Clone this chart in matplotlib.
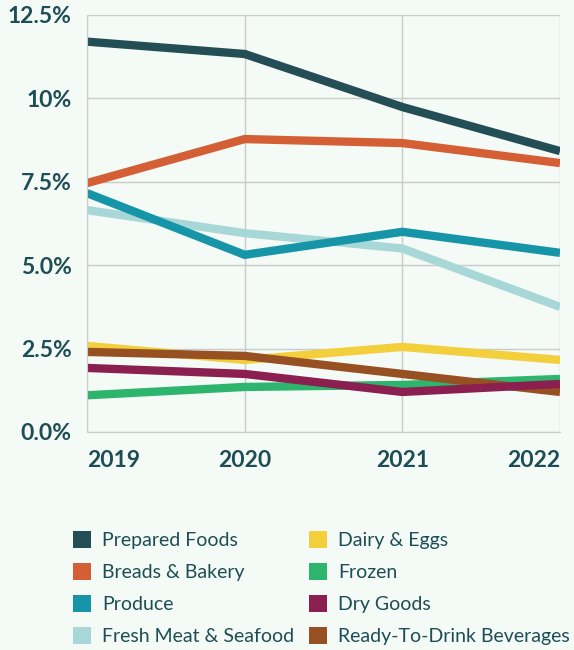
import matplotlib.pyplot as plt
from matplotlib.patches import Patch

years = [2019, 2020, 2021, 2022]
categories = ["Prepared Foods", "Breads & Bakery", "Produce", "Fresh Meat & Seafood",
              "Dairy & Eggs", "Frozen", "Dry Goods", "Ready-To-Drink Beverages"]
prepared = [11.7, 11.33, 9.74, 8.42]
breads = [7.46, 8.78, 8.66, 8.06]
produce = [7.16, 5.31, 6.0, 5.37]
fresh_meat = [6.65, 5.96, 5.5, 3.75]
dairy = [2.58, 2.16, 2.55, 2.16]
frozen = [1.1, 1.35, 1.41, 1.59]
dry_goods = [1.92, 1.74, 1.2, 1.44]
rtd = [2.4, 2.28, 1.74, 1.2]
yticks = [0, 2.5, 5, 7.5, 10, 12.5]
ytick_labels = ["0.0%", "2.5%", "5.0%", "7.5%", "10%", "12.5%"]

colors = ["#234e55", "#d45f35", "#1795a8", "#a8d7d7",
          "#f3cf3b", "#2db56d", "#8a1f50", "#965022"]
series = [prepared, breads, produce, fresh_meat, dairy, frozen, dry_goods, rtd]
# draw order: low lines first so the big ones sit on top like the original
draw_order = [5, 4, 7, 6, 3, 2, 1, 0]

bg = "#f4faf6"
txt = "#1d4d55"
grid = "#c8cccb"

plt.rcParams['font.family'] = ['Lato', 'DejaVu Sans']

fig = plt.figure(figsize=(5.74, 6.5), dpi=100, facecolor=bg)
ax = fig.add_axes([0.1516, 0.3354, 0.824, 0.6416], facecolor=bg)

for i in draw_order:
    ax.plot(years, series[i], color=colors[i], lw=6, solid_capstyle='butt',
            solid_joinstyle='miter')

ax.set_xlim(2019, 2022)
ax.set_ylim(0, 12.5)
ax.set_xticks(years)
ax.set_yticks(yticks)
ax.set_yticklabels(ytick_labels)
ax.grid(True, color=grid, lw=1)
ax.set_axisbelow(True)
for s in ax.spines.values():
    s.set_visible(False)
ax.spines['left'].set_visible(True)
ax.spines['left'].set_color(grid)
ax.spines['bottom'].set_visible(True)
ax.spines['bottom'].set_color(grid)
ax.tick_params(length=0, labelsize=16.5, labelcolor=txt)
ax.tick_params(axis='y', pad=11)
ax.tick_params(axis='x', pad=13)
for lab in ax.get_xticklabels() + ax.get_yticklabels():
    lab.set_fontweight('bold')
xl = ax.get_xticklabels()
xl[0].set_horizontalalignment('left')
xl[-1].set_horizontalalignment('right')

handles = [Patch(facecolor=c, edgecolor='none') for c in colors]
leg = fig.legend(handles, categories, ncol=2, loc='upper left',
                 bbox_to_anchor=(0.127, 0.183), frameon=False,
                 fontsize=14, handlelength=0.95, handleheight=0.95,
                 handletextpad=0.55, labelspacing=0.72, columnspacing=0.75,
                 borderaxespad=0, borderpad=0)
for t in leg.get_texts():
    t.set_color(txt)

plt.savefig("out.png", dpi=100, facecolor=bg)
